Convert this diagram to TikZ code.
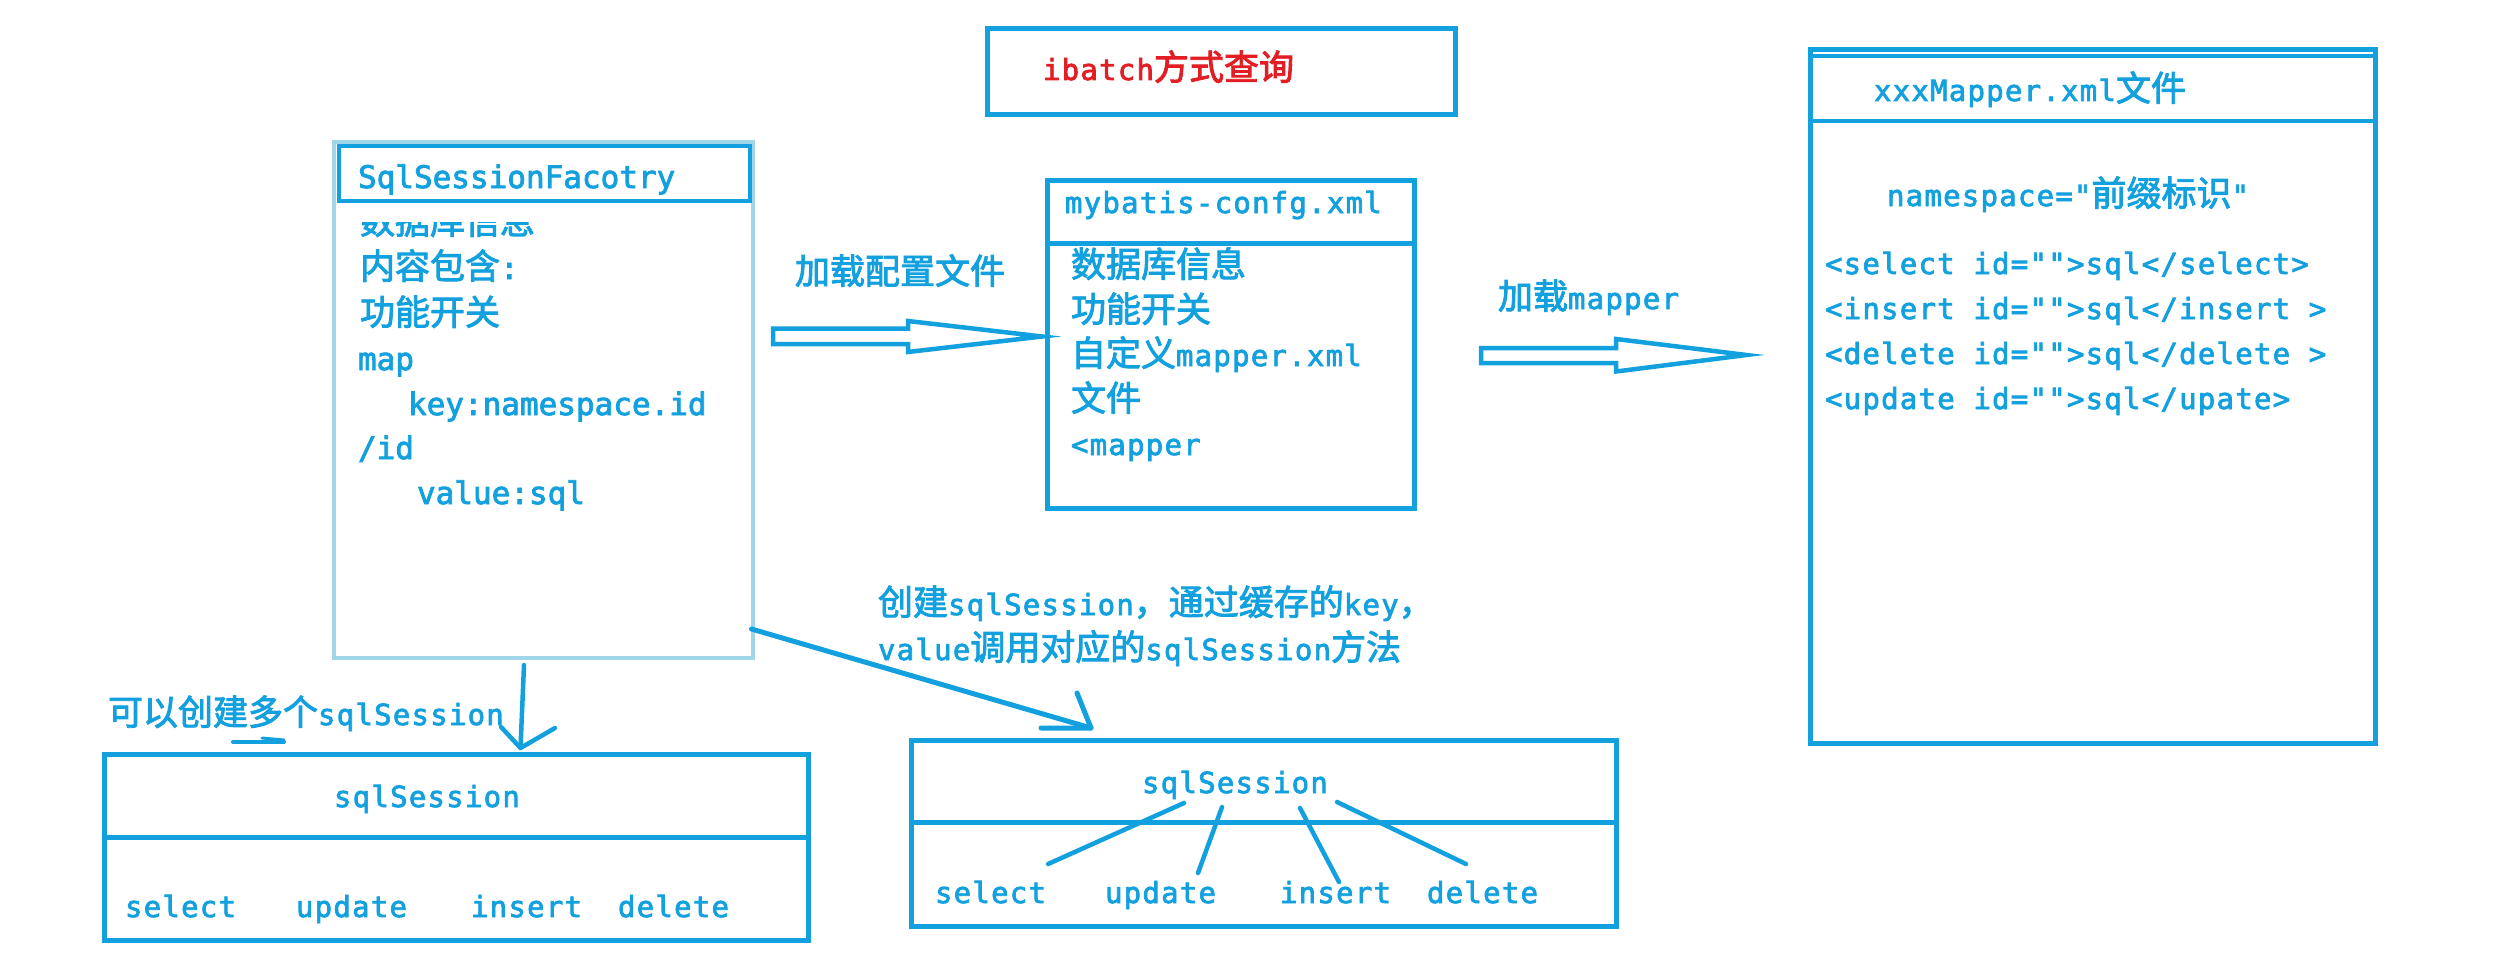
\documentclass[tikz,border=0pt]{standalone}
\usepackage{fontspec}
\usetikzlibrary{calc}
\newfontfamily\cjkf{Noto Sans CJK SC}[FakeBold=2.5]
\newfontfamily\monof{DejaVu Sans Mono}[FakeBold=2.5]
\newfontfamily\monocf{DejaVu Sans Mono}[LetterSpace=4.3,FakeBold=2.5]
\newcommand\zhs[1]{{\cjkf\fontsize{35}{40}\selectfont #1}}
\definecolor{bblue}{RGB}{18,160,222}
\definecolor{lblue}{RGB}{160,214,234}
\definecolor{tred}{RGB}{226,30,36}
\begin{document}
\begin{tikzpicture}[x=1pt,y=-1pt,
  box/.style={draw=bblue, line width=5pt, inner sep=0pt, outer sep=0pt, anchor=north west},
  lbox/.style={box, draw=lblue, line width=4.5pt},
  ft/.style={anchor=base west, inner sep=0pt, outer sep=0pt, text=bblue, font=\monof\fontsize{31}{36}\selectfont},
  ct/.style={anchor=base west, inner sep=0pt, outer sep=0pt, text=bblue, font=\monocf\fontsize{29}{34}\selectfont},
  hand/.style={draw=bblue, line width=4.5pt, line cap=round, line join=round},
  hollow/.style={draw=bblue, line width=4.5pt, line join=miter}]
\fill[white] (0,0) rectangle (2505,955);
\useasboundingbox (0,0) rectangle (2505,955);

% title
\node[box, minimum width=468pt, minimum height=86pt] (title) at (987,29) {};
\node[ct, text=tred] (ttl) at (1043,80) {ibatch\zhs{方式查询}};

% SqlSessionFactory
\node[lbox, minimum width=419pt, minimum height=516pt] (factory) at (334,142) {};
\node[box, line width=4.5pt, minimum width=411pt, minimum height=55pt] (facthead) at (339,146) {};
\node[ft] (tfh) at (358,188) {SqlSessionFacotry};
\begin{scope}
\clip (337,222) rectangle (751,656);
\node[ft] (tf0) at (360,234) {\zhs{数据库信息}};
\end{scope}
\node[ft] (tf1) at (360,279) {\zhs{内容包含}:};
\node[ft] (tf2) at (360,325) {\zhs{功能开关}};
\node[ft] (tf3) at (358,370) {map};
\node[ft] (tf4) at (408,415) {key:namespace.id};
\node[ft] (tf5) at (358,459) {/id};
\node[ft] (tf6) at (417,504) {value:sql};

% mybatis-config
\node[box, minimum width=366.5pt, minimum height=328pt] (myb) at (1047.5,180) {};
\node[box, minimum width=366.5pt, minimum height=63pt] (mybhead) at (1047.5,180) {};
\node[ct] (tmh) at (1065,213) {mybatis-confg.xml};
\node[ct] (tm1) at (1071,277) {\zhs{数据库信息}};
\node[ct] (tm2) at (1071,322) {\zhs{功能开关}};
\node[ct] (tm3) at (1071,366) {\zhs{自定义}mapper.xml};
\node[ct] (tm4) at (1071,411) {\zhs{文件}};
\node[ct] (tm5) at (1071,455) {<mapper};

% xxxMapper
\node[box, minimum width=564.5pt, minimum height=693pt] (xmap) at (1810.5,50) {};
\node[box, line width=4pt, minimum width=564.5pt, minimum height=65pt] (xhead) at (1810.5,56) {};
\node[ct] (txh) at (1874,101) {xxxMapper.xml\zhs{文件}};
\node[ct] (tx0) at (1887,206) {namespace="\zhs{前缀标识}"};
\node[ct] (tx1) at (1825,274) {<select id="">sql</select>};
\node[ct] (tx2) at (1825,319) {<insert id="">sql</insert >};
\node[ct] (tx3) at (1825,364) {<delete id="">sql</delete >};
\node[ct] (tx4) at (1825,409) {<update id="">sql</upate>};

% hollow arrows
\draw[hollow] (773,328.5) -- (908,328.5) -- (908,321) -- (1042,336.5) -- (908,352) -- (908,344) -- (773,344) -- cycle;
\node[ct] (tl1) at (795,284) {\zhs{加载配置文件}};
\draw[hollow] (1481,348) -- (1616,348) -- (1616,339) -- (1746.5,355) -- (1616,371.5) -- (1616,363) -- (1481,363) -- cycle;
\node[ct] (tl2) at (1498,309) {\zhs{加载}mapper};

% left sqlSession
\node[box, minimum width=704pt, minimum height=186pt] (sess1) at (104,754.5) {};
\node[box, minimum width=704pt, minimum height=82.5pt] (sess1head) at (104,754.5) {};
\node[ct] (ts1h) at (334,807) {sqlSession};
\node[ct] (s1sel) at (125,917) {select};
\node[ct] (s1upd) at (296,917) {update};
\node[ct] (s1ins) at (471,917) {insert};
\node[ct] (s1del) at (618,917) {delete};
\node[ct] (tl3) at (108,725) {\zhs{可以创建多个}sqlSession};
\draw[hand, line width=4pt] (233,742) -- (284,742);
\draw[hand, line width=3pt] (262,738) -- (284,740);

% right sqlSession
\node[box, minimum width=705.5pt, minimum height=186pt] (sess2) at (911,740.5) {};
\node[box, minimum width=705.5pt, minimum height=82pt] (sess2head) at (911,740.5) {};
\node[ct] (ts2h) at (1142,793) {sqlSession};
\node[ct] (s2sel) at (935,903) {select};
\node[ct] (s2upd) at (1105,903) {update};
\node[ct] (s2ins) at (1280,903) {insert};
\node[ct] (s2del) at (1427,903) {delete};
\node[ct] (tl4) at (878,615) {\zhs{创建}sqlSession\zhs{，通过缓存的}key\zhs{，}};
\node[ct] (tl5) at (878,660) {value\zhs{调用对应的}sqlSession\zhs{方法}};

\draw[hand] ($(sess2.north west)+(273,62.5)$) -- ($(sess2.north west)+(137,123.5)$);
\draw[hand] ($(sess2.north west)+(311,66.5)$) -- ($(sess2.north west)+(287,132.5)$);
\draw[hand] ($(sess2.north west)+(389,67.5)$) -- ($(sess2.north west)+(428,141.5)$);
\draw[hand] ($(sess2.north west)+(426,61.5)$) -- ($(sess2.north west)+(555,123.5)$);

% connectors
\draw[hand] ($(factory.south west)+(190,7)$) -- ($(sess1.north west)+(416.5,-6.5)$) coordinate (c1t);
\draw[hand] ($(c1t)+(-19.5,-21)$) -- (c1t) -- ($(c1t)+(34.5,-20)$);
\draw[hand, line width=5pt] ($(factory.north east)+(-1.5,487)$) -- ($(sess2.north west)+(180,-12.5)$) coordinate (c2t);
\draw[hand, line width=5pt] ($(c2t)+(-14,-35)$) -- (c2t) -- ($(c2t)+(-50,0)$);
\end{tikzpicture}
\end{document}
